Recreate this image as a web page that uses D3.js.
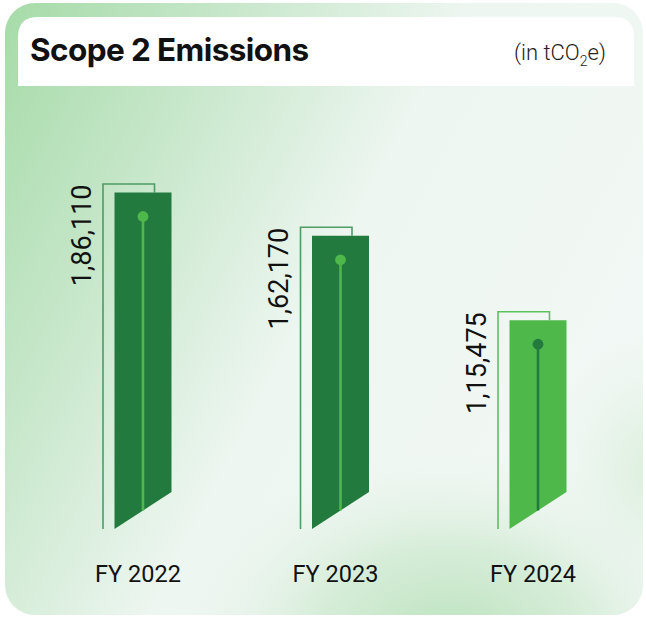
<!DOCTYPE html>
<html>
<head>
<meta charset="utf-8">
<script src="https://cdn.jsdelivr.net/npm/d3@7/dist/d3.min.js"></script>
<style>
  html, body { margin: 0; padding: 0; background: #ffffff; }
  svg { display: block; }
</style>
</head>
<body>
<script>
// Scope 2 emissions by financial year (tCO2e)
const categories = ["FY 2022", "FY 2023", "FY 2024"];
const values = [186110, 162170, 115475];
const valueLabels = ["1,86,110", "1,62,170", "1,15,475"];
const highlight = [false, false, true]; // latest year drawn in the bright green

const W = 646, H = 618;
const baseY = 529;          // left corner of the slanted bar foot
const slant = 37;           // rise of the foot across the bar width
const barW = 57;

const dark = "#227a3e", bright = "#4fb84a";

const svg = d3.select("body").append("svg")
  .attr("width", W).attr("height", H);

const defs = svg.append("defs");

// card background washes
const lg = defs.append("linearGradient").attr("id", "wash")
  .attr("x1", "0").attr("y1", "0").attr("x2", "1").attr("y2", "0.5");
lg.append("stop").attr("offset", "0").attr("stop-color", "#a6dba8");
lg.append("stop").attr("offset", "0.3").attr("stop-color", "#c9e8cc");
lg.append("stop").attr("offset", "0.58").attr("stop-color", "#edf6f0");
lg.append("stop").attr("offset", "1").attr("stop-color", "#f2f8f5");

const rg = defs.append("radialGradient").attr("id", "glow")
  .attr("cx", "0.5").attr("cy", "0.5").attr("r", "0.5");
rg.append("stop").attr("offset", "0").attr("stop-color", "#b9e1bb").attr("stop-opacity", 1);
rg.append("stop").attr("offset", "0.5").attr("stop-color", "#cce9ce").attr("stop-opacity", 0.75);
rg.append("stop").attr("offset", "1").attr("stop-color", "#e6f3e8").attr("stop-opacity", 0);

const rg2 = defs.append("radialGradient").attr("id", "glow2")
  .attr("cx", "0.5").attr("cy", "0.5").attr("r", "0.5");
rg2.append("stop").attr("offset", "0").attr("stop-color", "#d6edd7").attr("stop-opacity", 0.9);
rg2.append("stop").attr("offset", "1").attr("stop-color", "#e6f3e8").attr("stop-opacity", 0);

defs.append("clipPath").attr("id", "cardClip")
  .append("rect").attr("x", 5).attr("y", 3).attr("width", 638).attr("height", 612).attr("rx", 30);

const card = svg.append("g").attr("clip-path", "url(#cardClip)");
card.append("rect").attr("x", 5).attr("y", 3).attr("width", 638).attr("height", 612)
  .attr("fill", "url(#wash)");
card.append("ellipse").attr("cx", 450).attr("cy", 650).attr("rx", 270).attr("ry", 200)
  .attr("fill", "url(#glow)");
card.append("ellipse").attr("cx", 660).attr("cy", 470).attr("rx", 120).attr("ry", 140)
  .attr("fill", "url(#glow2)");

// header panel
svg.append("path")
  .attr("d", (() => {
    const x0 = 18, x1 = 634, y0 = 17, y1 = 86, r = 20;
    return `M${x0},${y1} L${x0},${y0 + r} Q${x0},${y0} ${x0 + r},${y0} L${x1 - r},${y0} Q${x1},${y0} ${x1},${y0 + r} L${x1},${y1} Z`;
  })())
  .attr("fill", "#ffffff");

svg.append("text")
  .attr("x", 30).attr("y", 61)
  .attr("font-family", "Inter, 'Liberation Sans', sans-serif")
  .attr("font-weight", 700).attr("font-size", 31.5)
  .attr("letter-spacing", -0.6)
  .attr("fill", "#111111")
  .text("Scope 2 Emissions");

const unit = svg.append("text")
  .attr("x", 606).attr("y", 60)
  .attr("text-anchor", "end")
  .attr("font-family", "Roboto, 'Liberation Sans', sans-serif")
  .attr("font-weight", 300).attr("font-size", 22)
  .attr("fill", "#222222");
unit.append("tspan").text("(in tCO");
unit.append("tspan").attr("font-size", 14).attr("dy", 6).text("2");
unit.append("tspan").attr("dy", -6).text("e)");

// scales
const x = d3.scalePoint().domain(categories).range([143, 538]);
const y = d3.scaleLinear().domain([0, d3.max(values)]).range([baseY, 192.5]);

const g = svg.append("g");
const bars = g.selectAll("g.bar").data(categories.map((c, i) => ({
  cat: c, value: values[i], label: valueLabels[i], hi: highlight[i]
}))).join("g").attr("class", "bar");

// bracket outline sitting behind/left of each bar
bars.append("path")
  .attr("d", d => {
    const cx = x(d.cat), left = cx - barW / 2, top = y(d.value);
    const bx0 = left - 11.5, bx1 = left + 40, by = top - 8.5;
    return `M${bx0},${baseY} L${bx0},${by} L${bx1},${by} L${bx1},${top}`;
  })
  .attr("fill", "none")
  .attr("stroke", d => d.hi ? "#5cc35a" : "#4f9c65")
  .attr("stroke-width", 1.6);

// bar body with slanted foot
bars.append("path")
  .attr("d", d => {
    const cx = x(d.cat), l = cx - barW / 2, r = cx + barW / 2, top = y(d.value);
    return `M${l},${top} L${r},${top} L${r},${baseY - slant} L${l},${baseY} Z`;
  })
  .attr("fill", d => d.hi ? bright : dark);

// stem and dot
bars.append("line")
  .attr("x1", d => x(d.cat)).attr("x2", d => x(d.cat))
  .attr("y1", d => y(d.value) + 24)
  .attr("y2", baseY - slant / 2)
  .attr("stroke", d => d.hi ? dark : bright)
  .attr("stroke-width", 2.6);

bars.append("circle")
  .attr("cx", d => x(d.cat)).attr("cy", d => y(d.value) + 24)
  .attr("r", 5.4)
  .attr("fill", d => d.hi ? dark : bright);

// rotated value labels
bars.append("text")
  .attr("transform", d => `translate(${x(d.cat) - barW / 2 - 24},${y(d.value) - 8}) rotate(-90)`)
  .attr("text-anchor", "end")
  .attr("font-family", "Roboto, 'Liberation Sans', sans-serif")
  .attr("font-weight", 400).attr("font-size", 27)
  .attr("fill", "#111111")
  .text(d => d.label);

// category labels
bars.append("text")
  .attr("x", d => x(d.cat) - 5)
  .attr("y", 582)
  .attr("text-anchor", "middle")
  .attr("font-family", "Roboto, 'Liberation Sans', sans-serif")
  .attr("font-weight", 400).attr("font-size", 23.5)
  .attr("fill", "#111111")
  .text(d => d.cat);
</script>
</body>
</html>
